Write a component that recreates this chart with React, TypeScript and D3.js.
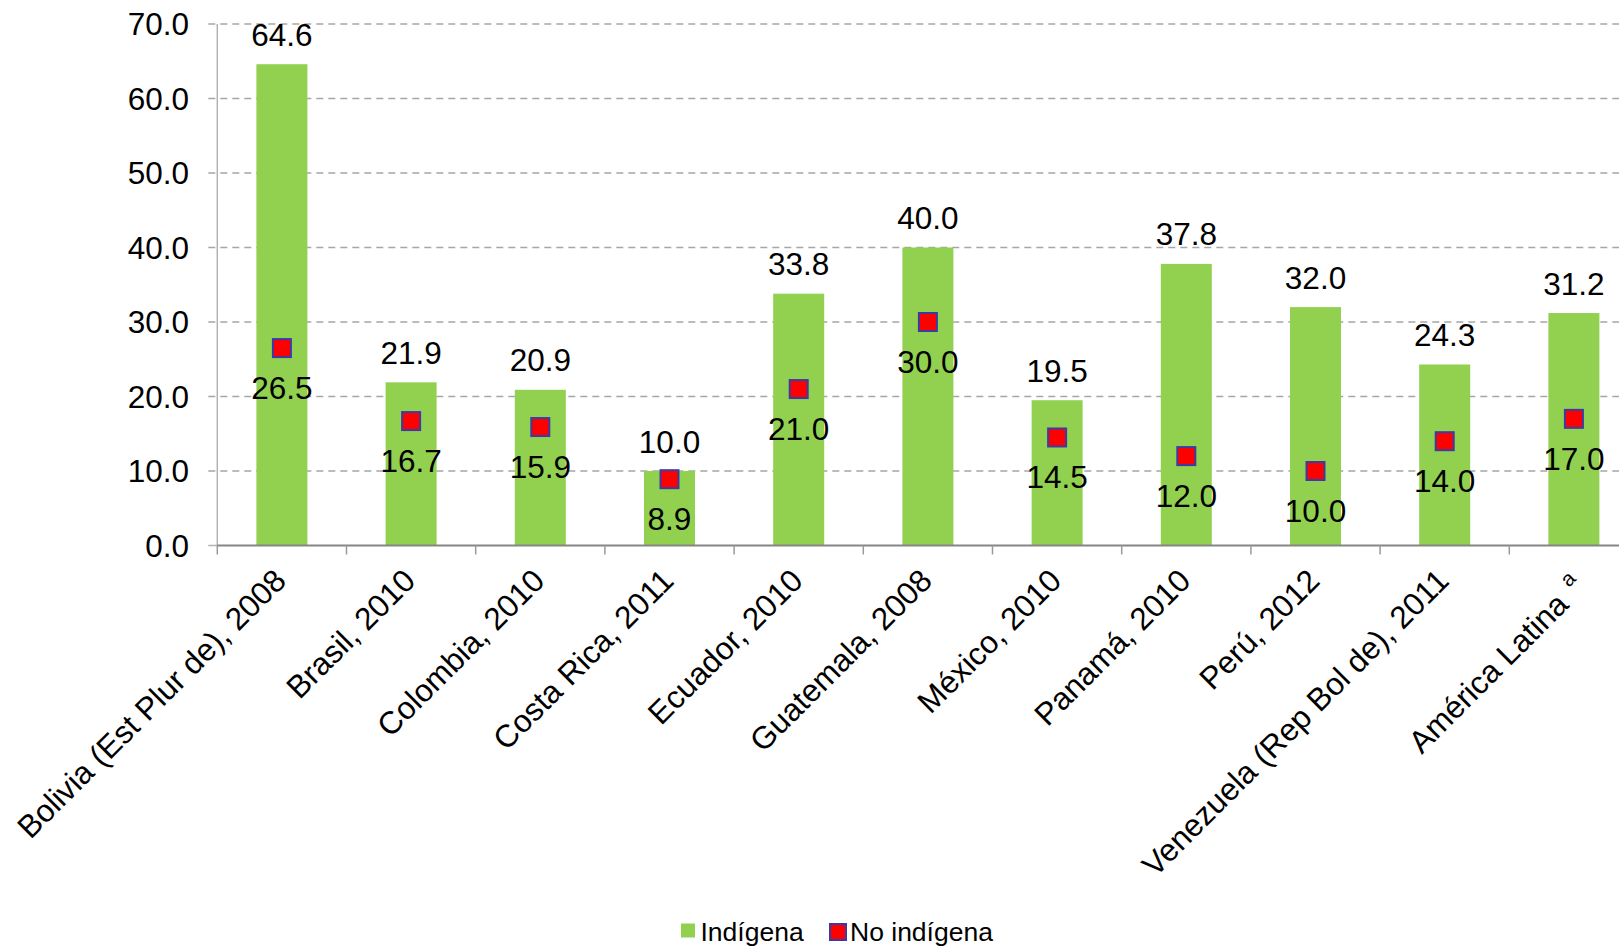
import React from "react";
import * as d3 from "d3";

const categories = [
  "Bolivia (Est Plur de), 2008",
  "Brasil, 2010",
  "Colombia, 2010",
  "Costa Rica, 2011",
  "Ecuador, 2010",
  "Guatemala, 2008",
  "México, 2010",
  "Panamá, 2010",
  "Perú, 2012",
  "Venezuela (Rep Bol de), 2011",
  "América Latina",
];
const superscripts = ["", "", "", "", "", "", "", "", "", "", "a"];
const indigena = [64.6, 21.9, 20.9, 10.0, 33.8, 40.0, 19.5, 37.8, 32.0, 24.3, 31.2];
const noIndigena = [26.5, 16.7, 15.9, 8.9, 21.0, 30.0, 14.5, 12.0, 10.0, 14.0, 17.0];
const yTicks = [0, 10, 20, 30, 40, 50, 60, 70];
const legendLabels = ["Indígena", "No indígena"];

const W = 1619;
const H = 946;
const FONT = "'Liberation Sans', Arial, Helvetica, sans-serif";
const GREEN = "#92d050";
const RED = "#ff0000";
const BORDER = "#3b3ba6";
const FS = 31.5;

export default function App() {
  const x0 = 217.3;
  const band = 129.2;
  const x = d3
    .scaleBand<string>()
    .domain(categories)
    .range([x0, x0 + band * categories.length])
    .paddingInner(0)
    .paddingOuter(0);
  const y = d3.scaleLinear().domain([0, 70]).range([545.5, 24]);
  const barW = 51;
  const fmt = d3.format(".1f");
  const markerSize = 18;

  return (
    <svg
      width={W}
      height={H}
      style={{ position: "absolute", left: 0, top: 0, background: "#fff" }}
      fontFamily={FONT}
    >
      {/* gridlines */}
      {yTicks.map((t) =>
        t === 0 ? null : (
          <line
            key={"g" + t}
            x1={x0 - 9}
            x2={W}
            y1={y(t)}
            y2={y(t)}
            stroke="#a6a6a6"
            strokeWidth={1.5}
            strokeDasharray="7,5"
          />
        )
      )}
      {/* y axis */}
      <line x1={x0} x2={x0} y1={y(70)} y2={y(0)} stroke="#b3b3b3" strokeWidth={1.5} />
      <line x1={x0 - 9} x2={x0} y1={y(0)} y2={y(0)} stroke="#b3b3b3" strokeWidth={1.5} />
      {yTicks.map((t) => (
        <text
          key={"yl" + t}
          x={189}
          y={y(t) + 11}
          textAnchor="end"
          fontSize={FS}
          fill="#000"
        >
          {fmt(t)}
        </text>
      ))}
      {/* bars */}
      {categories.map((c, i) => (
        <rect
          key={"b" + i}
          x={(x(c) as number) + (band - barW) / 2}
          y={y(indigena[i])}
          width={barW}
          height={y(0) - y(indigena[i])}
          fill={GREEN}
        />
      ))}
      {/* x axis */}
      <line x1={x0} x2={W} y1={y(0)} y2={y(0)} stroke="#868686" strokeWidth={2} />
      {categories.map((c, i) => (
        <line
          key={"xt" + i}
          x1={x(c) as number}
          x2={x(c) as number}
          y1={y(0)}
          y2={y(0) + 9}
          stroke="#9a9a9a"
          strokeWidth={1.5}
        />
      ))}
      {/* bar labels */}
      {categories.map((c, i) => (
        <text
          key={"bl" + i}
          x={(x(c) as number) + band / 2}
          y={y(indigena[i]) - 18.5}
          textAnchor="middle"
          fontSize={FS}
          fill="#000"
        >
          {fmt(indigena[i])}
        </text>
      ))}
      {/* markers */}
      {categories.map((c, i) => (
        <rect
          key={"m" + i}
          x={(x(c) as number) + band / 2 - markerSize / 2}
          y={y(noIndigena[i]) - markerSize / 2}
          width={markerSize}
          height={markerSize}
          fill={RED}
          stroke={BORDER}
          strokeWidth={2}
        />
      ))}
      {categories.map((c, i) => (
        <text
          key={"ml" + i}
          x={(x(c) as number) + band / 2}
          y={y(noIndigena[i]) + 51}
          textAnchor="middle"
          fontSize={FS}
          fill="#000"
        >
          {fmt(noIndigena[i])}
        </text>
      ))}
      {/* x labels */}
      {categories.map((c, i) => (
        <text
          key={"xl" + i}
          transform={`translate(${(x(c) as number) + band / 2 + 6},${y(0) + 37}) rotate(-45)`}
          y={superscripts[i] ? 10 : 0}
          textAnchor="end"
          fontSize={FS}
          fill="#000"
        >
          {c}
          {superscripts[i] ? (
            <tspan fontSize={21} dx={12} dy={-14}>
              {superscripts[i]}
            </tspan>
          ) : null}
        </text>
      ))}
      {/* legend */}
      <rect x={681} y={923.5} width={14} height={14} fill={GREEN} />
      <text x={700.5} y={941} fontSize={26.5} fill="#000">
        {legendLabels[0]}
      </text>
      <rect x={830} y={924} width={16} height={16} fill={RED} stroke={BORDER} strokeWidth={2} />
      <text x={850} y={941} fontSize={26.5} fill="#000">
        {legendLabels[1]}
      </text>
    </svg>
  );
}
